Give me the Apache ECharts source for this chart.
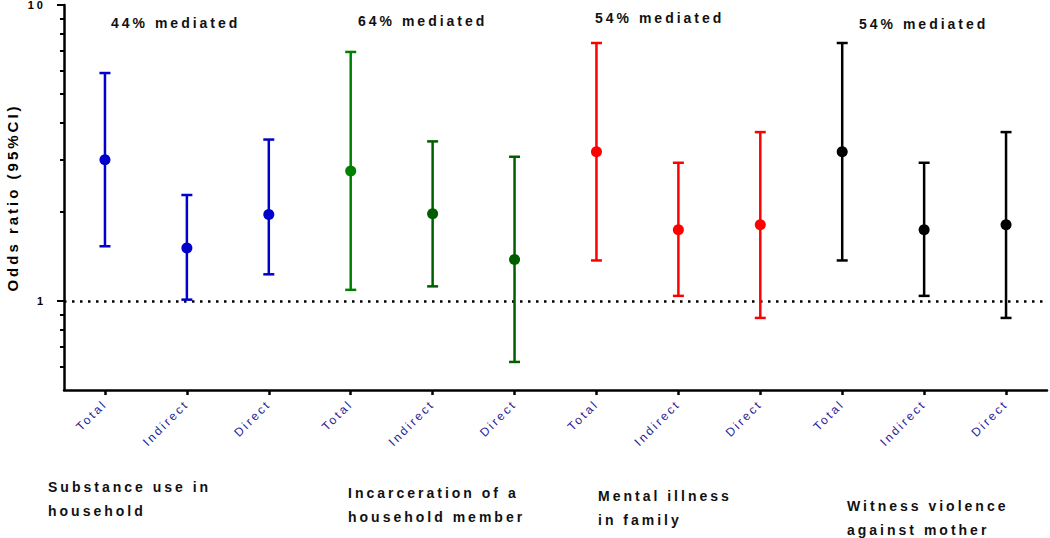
<!DOCTYPE html>
<html>
<head>
<meta charset="utf-8">
<script src="https://cdn.jsdelivr.net/npm/echarts@6/dist/echarts.min.js"></script>
<style>
  html, body { margin: 0; padding: 0; background: #fff; }
  #main { width: 1050px; height: 538px; }
  #main text { letter-spacing: 2.5px; }
  #main text[style*="bold"] { letter-spacing: 3px; }
</style>
</head>
<body>
<div id="main"></div>
<script>
// ---- Data ----
const categories = ['Total', 'Indirect', 'Direct', 'Total', 'Indirect', 'Direct',
                    'Total', 'Indirect', 'Direct', 'Total', 'Indirect', 'Direct'];
const estimates = [3.00, 1.51, 1.96, 2.75, 1.97, 1.38, 3.19, 1.74, 1.81, 3.19, 1.74, 1.81];
const lowerCI   = [1.53, 1.01, 1.23, 1.09, 1.12, 0.622, 1.37, 1.04, 0.876, 1.37, 1.04, 0.876];
const upperCI   = [5.89, 2.28, 3.51, 6.94, 3.46, 3.07, 7.44, 2.93, 3.72, 7.44, 2.93, 3.72];
const mediatedLabels = ['44% mediated', '64% mediated', '54% mediated', '54% mediated'];
const groupLabels = ['Substance use in\nhousehold', 'Incarceration of a\nhousehold member',
                     'Mental illness\nin family', 'Witness violence\nagainst mother'];
const majorTicks = [1, 10];
const minorTicks = [0.6, 0.7, 0.8, 0.9, 2, 3, 4, 5, 6, 7, 8, 9];
const referenceValue = 1;

// ---- Styles ----
const pointColors = ['#0000CC', '#0000CC', '#0000CC',
                     '#008000', '#005E00', '#005E00',
                     '#FF0000', '#FF0000', '#FF0000',
                     '#000000', '#000000', '#000000'];
const FONT = '"Liberation Sans", Arial, Helvetica, sans-serif';
const mediatedPos = [[111, 16], [358, 14], [595, 11], [859, 17]];
const groupPos = [[48, 475], [348, 481], [598, 484], [847, 494]];

const chart = echarts.init(document.getElementById('main'), null, { renderer: 'svg' });

const graphics = [];
mediatedLabels.forEach((t, i) => {
  graphics.push({
    type: 'text', x: mediatedPos[i][0], y: mediatedPos[i][1],
    style: { text: t, font: 'bold 14px ' + FONT, fill: '#111', textVerticalAlign: 'top' }
  });
});
groupLabels.forEach((t, i) => {
  graphics.push({
    type: 'text', x: groupPos[i][0], y: groupPos[i][1],
    style: { text: t, font: 'bold 14px ' + FONT, fill: '#111', lineHeight: 24, textVerticalAlign: 'top' }
  });
});

const yCommon = { type: 'log', logBase: 10, min: 0.5, max: 10 };

chart.setOption({
  animation: false,
  backgroundColor: '#fff',
  textStyle: { fontFamily: FONT },
  grid: { left: 64, right: 3, top: 5, bottom: 148, containLabel: false, outerBoundsMode: 'none' },
  xAxis: {
    type: 'category',
    data: categories,
    boundaryGap: true,
    axisLine: { show: true, lineStyle: { color: '#000', width: 2.5 } },
    axisTick: { show: true, alignWithLabel: true, interval: 0, length: 5, lineStyle: { color: '#000', width: 2.5 } },
    axisLabel: { interval: 0, rotate: 45, margin: 12, fontSize: 12, color: '#1E1E9C', fontFamily: FONT },
    splitLine: { show: false }
  },
  yAxis: [
    Object.assign({}, yCommon, {
      position: 'left',
      name: 'Odds ratio (95%CI)',
      nameLocation: 'middle',
      nameGap: 44,
      nameTextStyle: { fontSize: 15, fontWeight: 'bold', color: '#000', fontFamily: FONT },
      axisLine: { show: true, onZero: false, lineStyle: { color: '#000', width: 2.5 } },
      axisTick: { show: true, customValues: majorTicks, length: 7, lineStyle: { color: '#000', width: 2 } },
      axisLabel: { customValues: majorTicks, fontSize: 11, fontWeight: 'bold', color: '#000', margin: 18,
                   formatter: v => String(v) },
      minorTick: { show: false },
      splitLine: { show: false }
    }),
    Object.assign({}, yCommon, {
      position: 'left',
      axisLine: { show: false },
      axisTick: { show: true, customValues: minorTicks, length: 4, lineStyle: { color: '#000', width: 2 } },
      axisLabel: { show: false },
      splitLine: { show: false }
    })
  ],
  graphic: graphics,
  series: [
    {
      type: 'custom',
      xAxisIndex: 0, yAxisIndex: 0,
      data: categories.map((c, i) => [i, lowerCI[i], upperCI[i]]),
      renderItem: function (params, api) {
        const i = params.dataIndex;
        const lo = api.coord([api.value(0), api.value(1)]);
        const hi = api.coord([api.value(0), api.value(2)]);
        const hw = 5.5;
        const style = { stroke: pointColors[i], lineWidth: 2.5, fill: null };
        return {
          type: 'group',
          children: [
            { type: 'line', shape: { x1: lo[0], y1: lo[1], x2: hi[0], y2: hi[1] }, style: style },
            { type: 'line', shape: { x1: lo[0] - hw, y1: lo[1], x2: lo[0] + hw, y2: lo[1] }, style: style },
            { type: 'line', shape: { x1: hi[0] - hw, y1: hi[1], x2: hi[0] + hw, y2: hi[1] }, style: style }
          ]
        };
      },
      z: 2
    },
    {
      type: 'scatter',
      xAxisIndex: 0, yAxisIndex: 0,
      symbol: 'circle',
      symbolSize: 11,
      data: estimates.map((v, i) => ({ value: [i, v], itemStyle: { color: pointColors[i], opacity: 1 } })),
      z: 3,
      markLine: {
        silent: true,
        symbol: ['none', 'none'],
        label: { show: false },
        lineStyle: { color: '#000', type: [2.5, 5.5], width: 2.5 },
        data: [{ yAxis: referenceValue }],
        z: 1
      }
    }
  ]
});
</script>
</body>
</html>
